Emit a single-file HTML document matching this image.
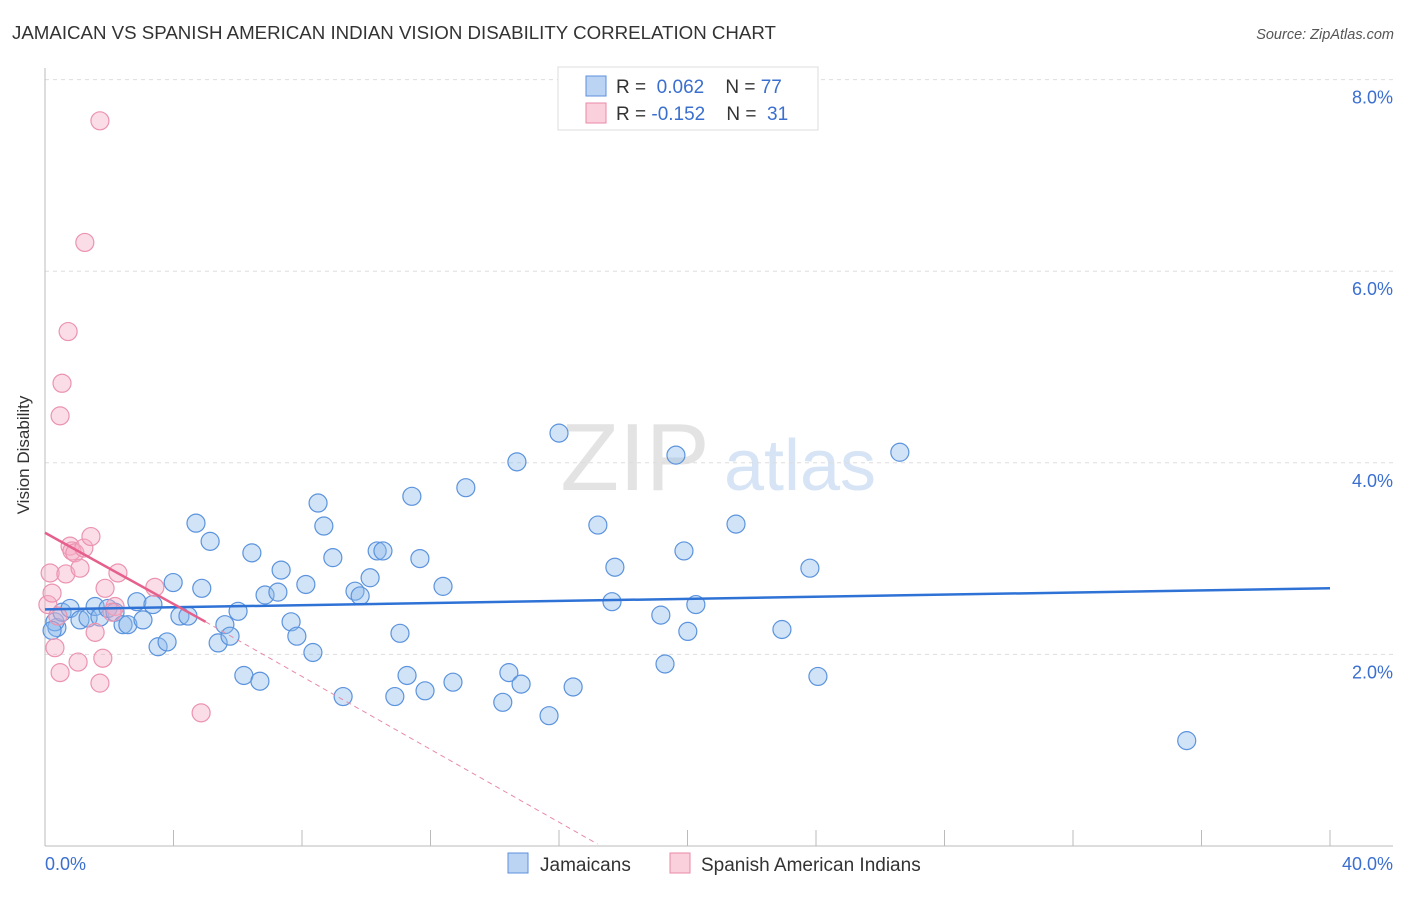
<!DOCTYPE html>
<html><head><meta charset="utf-8"><style>
body{margin:0;background:#fff;font-family:"Liberation Sans",sans-serif}
svg text{font-family:"Liberation Sans",sans-serif}
</style></head><body>
<svg width="1406" height="892" viewBox="0 0 1406 892">
<text x="12" y="39" font-size="18.7" fill="#333">JAMAICAN VS SPANISH AMERICAN INDIAN VISION DISABILITY CORRELATION CHART</text>
<text x="1394" y="39" font-size="14.5" fill="#555" text-anchor="end" font-style="italic">Source: ZipAtlas.com</text>
<g>
<text x="635" y="490" font-size="96" fill="#e3e3e3" text-anchor="middle" font-family="Liberation Serif,serif">ZIP</text>
<text x="800" y="490" font-size="72" fill="#d6e4f5" text-anchor="middle">atlas</text>
</g>
<g id="grid"></g>
<g id="axes"></g>
<g id="marks"></g>
<text x="29" y="455" font-size="17" fill="#333" text-anchor="middle" transform="rotate(-90 29 455)">Vision Disability</text>
<text x="45" y="870" font-size="18" fill="#3a6fd0">0.0%</text>
<text x="1393" y="870" font-size="18" fill="#3a6fd0" text-anchor="end">40.0%</text>
<g>
<rect x="558" y="67" width="260" height="63" fill="#fff" stroke="#ddd"/>
<rect x="586" y="76" width="20" height="20" fill="#bcd4f3" stroke="#5c8fdc"/>
<rect x="586" y="103" width="20" height="20" fill="#fbd0dd" stroke="#e88aa8"/>
<text x="616" y="93" font-size="19" fill="#333">R = <tspan fill="#3a6fd0">&#160;0.062</tspan>&#160;&#160;&#160;&#160;N = <tspan fill="#3a6fd0">77</tspan></text>
<text x="616" y="120" font-size="19" fill="#333">R = <tspan fill="#3a6fd0">-0.152</tspan>&#160;&#160;&#160;&#160;N = <tspan fill="#3a6fd0">&#160;31</tspan></text>
</g>
<g>
<rect x="508" y="853" width="20" height="20" fill="#bcd4f3" stroke="#5c8fdc"/>
<text x="540" y="871" font-size="19" fill="#333">Jamaicans</text>
<rect x="670" y="853" width="20" height="20" fill="#fbd0dd" stroke="#e88aa8"/>
<text x="701" y="871" font-size="19" fill="#333">Spanish American Indians</text>
</g>
</svg>
<script>
const yTicks=[2,4,6,8];
const yTickLabels=["2.0%","4.0%","6.0%","8.0%"];
const xTicks=[0,4,8,12,16,20,24,28,32,36,40];
const jamX=[0.37,0.31,0.22,0.53,0.78,1.09,1.34,1.56,1.71,1.96,2.18,2.43,2.58,2.86,3.05,3.36,3.52,3.80,3.99,4.20,4.45,4.70,4.88,5.14,5.39,5.60,5.76,6.01,6.19,6.44,6.69,6.85,7.25,7.35,7.66,7.84,8.12,8.34,8.50,8.68,8.96,9.28,9.65,9.81,10.12,10.34,10.52,10.89,11.05,11.27,11.42,11.67,11.83,12.39,12.70,13.10,14.25,14.44,14.69,14.82,15.69,16.00,16.44,17.21,17.65,17.74,19.17,19.30,19.64,19.89,20.01,20.26,21.51,22.94,23.81,24.06,26.61,35.54];
const jamY=[2.28,2.34,2.25,2.44,2.48,2.36,2.38,2.50,2.39,2.48,2.44,2.31,2.31,2.55,2.36,2.52,2.08,2.13,2.75,2.40,2.40,3.37,2.69,3.18,2.12,2.31,2.19,2.45,1.78,3.06,1.72,2.62,2.65,2.88,2.34,2.19,2.73,2.02,3.58,3.34,3.01,1.56,2.66,2.61,2.80,3.08,3.08,1.56,2.22,1.78,3.65,3.00,1.62,2.71,1.71,3.74,1.50,1.81,4.01,1.69,1.36,4.31,1.66,3.35,2.55,2.91,2.41,1.90,4.08,3.08,2.24,2.52,3.36,2.26,2.90,1.77,4.11,1.10];
const spX=[0.09,0.16,0.22,0.31,0.40,0.47,0.53,0.47,0.65,0.72,0.78,0.84,0.93,1.03,1.09,1.21,1.24,1.43,1.56,1.71,1.71,1.80,1.87,2.18,2.27,3.42,4.86,2.09];
const spY=[2.52,2.85,2.64,2.07,2.40,1.81,4.83,4.49,2.84,5.37,3.13,3.08,3.06,1.92,2.90,3.11,6.30,3.23,2.23,1.70,7.57,1.96,2.69,2.50,2.85,2.70,1.39,2.44];
const jamTrend=[2.47,2.69];
const spTrend=[3.27,2.34,0.02];
const spTrendX=[0,5,17.2];
const NS="http://www.w3.org/2000/svg";
const X=v=>45+v/40*1285, Y=v=>846-v*95.8;
function mk(tag,attrs,parent){const e=document.createElementNS(NS,tag);for(const k in attrs)e.setAttribute(k,attrs[k]);document.getElementById(parent).appendChild(e);return e;}
yTicks.forEach((t,i)=>{
 const g=mk('line',{x1:45,x2:1393,y1:Y(t),y2:Y(t),stroke:'#ddd','stroke-dasharray':'4,4'},'grid');
 
 
 const l=mk('text',{x:1393,y:Y(t)+24,'font-size':18,fill:'#3a6fd0','text-anchor':'end'},'grid');
 l.textContent=yTickLabels[i];
 
 
});
const ya=mk('line',{x1:45,x2:45,y1:68,y2:846,stroke:'#bbb'},'axes');


const xa=mk('line',{x1:45,x2:1393,y1:846,y2:846,stroke:'#bbb'},'axes');


xTicks.forEach(t=>{
 const tk=mk('line',{x1:X(t),x2:X(t),y1:830,y2:846,stroke:'#bbb'},'axes');
 
 
});
jamX.forEach((x,i)=>{
 const c=mk('circle',{cx:X(x),cy:Y(jamY[i]),r:9,fill:'rgba(140,184,236,0.4)',stroke:'#5b93dd','stroke-width':1.2},'marks');
 
 
});
spX.forEach((x,i)=>{
 const c=mk('circle',{cx:X(x),cy:Y(spY[i]),r:9,fill:'rgba(246,170,195,0.4)',stroke:'#eb93b0','stroke-width':1.2},'marks');
 
 
});
const jt=mk('line',{x1:X(0),y1:Y(jamTrend[0]),x2:X(40),y2:Y(jamTrend[1]),stroke:'#2f72d6','stroke-width':2.5},'marks');


const st=mk('line',{x1:X(spTrendX[0]),y1:Y(spTrend[0]),x2:X(spTrendX[1]),y2:Y(spTrend[1]),stroke:'#e6608c','stroke-width':2.5},'marks');


const sd=mk('line',{x1:X(spTrendX[1]),y1:Y(spTrend[1]),x2:X(spTrendX[2]),y2:Y(spTrend[2]),stroke:'#e88aa8','stroke-width':1,'stroke-dasharray':'5,4'},'marks');


</script>
</body></html>
